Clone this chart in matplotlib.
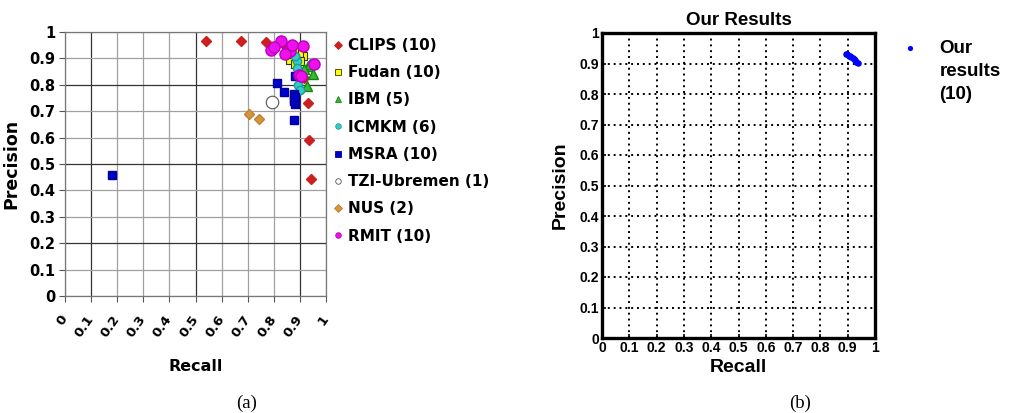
import matplotlib
matplotlib.use("Agg")
import matplotlib.pyplot as plt
from matplotlib.lines import Line2D

# ---------------- data (a) ----------------
clips_recall = [0.541, 0.675, 0.771, 0.839, 0.870, 0.905, 0.914, 0.930, 0.934, 0.942]
clips_prec   = [0.965, 0.965, 0.962, 0.950, 0.930, 0.905, 0.826, 0.730, 0.590, 0.444]

fudan_recall = [0.885, 0.908, 0.913, 0.861, 0.885, 0.882, 0.870, 0.895, 0.900, 0.878]
fudan_prec   = [0.937, 0.940, 0.908, 0.895, 0.900, 0.879, 0.915, 0.920, 0.890, 0.925]

ibm_recall = [0.930, 0.949, 0.927, 0.938, 0.915]
ibm_prec   = [0.870, 0.840, 0.794, 0.880, 0.860]

icmkm_recall = [0.887, 0.889, 0.893, 0.895, 0.882, 0.900]
icmkm_prec   = [0.890, 0.865, 0.800, 0.840, 0.910, 0.780]

msra_recall = [0.179, 0.811, 0.839, 0.877, 0.877, 0.880, 0.877, 0.880, 0.877, 0.880]
msra_prec   = [0.460, 0.805, 0.772, 0.766, 0.747, 0.728, 0.667, 0.832, 0.740, 0.755]

tzi_recall = [0.793]
tzi_prec   = [0.735]

nus_recall = [0.706, 0.742]
nus_prec   = [0.690, 0.669]

rmit_recall = [0.826, 0.790, 0.861, 0.841, 0.910, 0.953, 0.895, 0.905, 0.800, 0.870]
rmit_prec   = [0.967, 0.933, 0.929, 0.917, 0.946, 0.879, 0.838, 0.832, 0.945, 0.950]

labels_a = ["CLIPS (10)", "Fudan (10)", "IBM (5)", "ICMKM (6)", "MSRA (10)",
            "TZI-Ubremen (1)", "NUS (2)", "RMIT (10)"]

# ---------------- data (b) ----------------
our_recall = [0.893, 0.898, 0.903, 0.908, 0.912, 0.918, 0.922, 0.927, 0.932, 0.937]
our_prec   = [0.932, 0.930, 0.926, 0.925, 0.922, 0.918, 0.915, 0.910, 0.906, 0.902]

ticks = [0, 0.1, 0.2, 0.3, 0.4, 0.5, 0.6, 0.7, 0.8, 0.9, 1]
tick_labels = ["0", "0.1", "0.2", "0.3", "0.4", "0.5", "0.6", "0.7", "0.8", "0.9", "1"]

W, H = 1013, 413
fig = plt.figure(figsize=(W / 100, H / 100), dpi=100)

# ================= panel (a) =================
axa = fig.add_axes([65 / W, 1 - 296 / H, 261 / W, 264 / H])
series = [
    (clips_recall, clips_prec, dict(marker="D", color="#CC2020", mec="#CC2020", ms=5)),
    (fudan_recall, fudan_prec, dict(marker="s", color="#FFFF00", mec="#333300", ms=6, mew=0.8)),
    (ibm_recall, ibm_prec, dict(marker="^", color="#33BB33", mec="#118811", ms=7)),
    (icmkm_recall, icmkm_prec, dict(marker="o", color="#33CCCC", mec="#229999", ms=6)),
    (msra_recall, msra_prec, dict(marker="s", color="#0000CC", mec="#000099", ms=6)),
    (tzi_recall, tzi_prec, dict(marker="o", color="white", mec="#555555", ms=9, mew=0.8)),
    (nus_recall, nus_prec, dict(marker="D", color="#D4963C", mec="#C08030", ms=5)),
    (rmit_recall, rmit_prec, dict(marker="o", color="#EE11EE", mec="#BB00BB", ms=8)),
]
handles = []
for (xs, ys, st), lab in zip(series, labels_a):
    axa.plot(xs, ys, linestyle="none", zorder=3, **st)
    handles.append(Line2D([], [], linestyle="none", marker=st["marker"], color=st["color"],
                          mec=st["mec"], ms=4, mew=0.6, label=lab))

axa.set_xlim(0, 1)
axa.set_ylim(0, 1)
axa.set_xticks(ticks)
axa.set_yticks(ticks)
axa.set_yticklabels(tick_labels, fontsize=10.5, fontweight="bold")
axa.set_xticklabels(tick_labels, fontsize=9.5, fontweight="bold", rotation=55,
                    ha="right", va="center", rotation_mode="anchor")
axa.tick_params(axis="x", direction="out", length=4, pad=11, color="#555555")
axa.tick_params(axis="y", direction="out", length=4, pad=3, color="#555555")
axa.grid(True, color="#a0a0a0", linewidth=0.9)
dark_x = [1, 5, 9]
dark_y = [2, 5, 8]
for i, gl in enumerate(axa.get_xgridlines()):
    if i in dark_x:
        gl.set_color("#333333")
for i, gl in enumerate(axa.get_ygridlines()):
    if i in dark_y:
        gl.set_color("#333333")
for sp in axa.spines.values():
    sp.set_color("#777777")
    sp.set_linewidth(0.9)
axa.set_axisbelow(True)

axa.set_ylabel("Precision", fontsize=12.5, fontweight="bold")
axa.yaxis.set_label_coords(-0.17, 0.5)
axa.set_xlabel("Recall", fontsize=11.5, fontweight="bold")
axa.xaxis.set_label_coords(0.5, -0.24)

fig.legend(handles=handles, loc="upper left", bbox_to_anchor=(333 / W, 1 - 38 / H),
           frameon=False, prop=dict(size=11, weight="bold"), handlelength=0.6,
           handletextpad=0.35, labelspacing=0.8, borderaxespad=0, borderpad=0)

fig.text(247 / W, 1 - 403 / H, "(a)", ha="center", va="center",
         fontsize=13.5, family="Liberation Serif")

# ================= panel (b) =================
axb = fig.add_axes([602 / W, 1 - 338 / H, 273 / W, 305 / H])
axb.scatter(our_recall, our_prec, s=22, color="#0000FF", zorder=3, linewidths=0,
            label="Our\nresults\n(10)")
axb.set_xlim(0, 1)
axb.set_ylim(0, 1)
axb.set_xticks(ticks)
axb.set_yticks(ticks)
axb.set_xticklabels(tick_labels, fontsize=10, fontweight="bold", family="Liberation Sans")
axb.set_yticklabels(tick_labels, fontsize=10, fontweight="bold", family="Liberation Sans")
axb.tick_params(direction="in", length=3, width=1.2, pad=2)
axb.grid(True, color="black", linestyle=(0, (1, 2)), linewidth=1.4)
for sp in axb.spines.values():
    sp.set_linewidth(2.4)
    sp.set_color("black")
axb.set_title("Our Results", fontsize=13.5, fontweight="bold", family="Liberation Sans", pad=6)
axb.set_ylabel("Precision", fontsize=14, fontweight="bold", family="Liberation Sans")
axb.yaxis.set_label_coords(-0.12, 0.5)
axb.set_xlabel("Recall", fontsize=14, fontweight="bold", family="Liberation Sans")
axb.xaxis.set_label_coords(0.5, -0.07)

legb = fig.legend(loc="upper left", bbox_to_anchor=(902 / W, 1 - 40 / H), frameon=False,
                  prop=dict(size=13.5, weight="bold", family="Liberation Sans"),
                  handlelength=0.8, handletextpad=1.2, borderaxespad=0, borderpad=0,
                  markerscale=0.8)
for t in legb.get_texts():
    t.set_linespacing(1.45)
# put the marker next to the first line of the label
try:
    for col in legb._legend_handle_box.get_children():
        for row in col.get_children():
            row.align = "top"
except Exception:
    pass

fig.text(800 / W, 1 - 403 / H, "(b)", ha="center", va="center",
         fontsize=13.5, family="Liberation Serif")

fig.savefig("out.png", dpi=100)
